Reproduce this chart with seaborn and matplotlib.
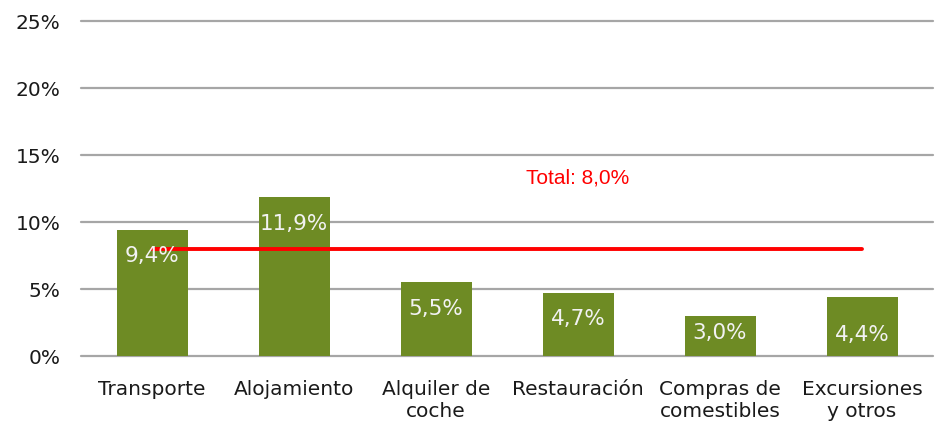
import numpy as np
import pandas as pd
import matplotlib
matplotlib.use("Agg")
import matplotlib.pyplot as plt
import seaborn as sns

# Datos del grafico
categorias = ["Transporte", "Alojamiento", "Alquiler de\ncoche", "Restauración",
              "Compras de\ncomestibles", "Excursiones\ny otros"]
valores = [9.4, 11.9, 5.5, 4.7, 3.0, 4.4]
etiquetas = ["9,4%", "11,9%", "5,5%", "4,7%", "3,0%", "4,4%"]
total = 8.0
total_texto = "Total: 8,0%"
ticks_y = [0, 5, 10, 15, 20, 25]

# Desplazamiento de las etiquetas dentro de las barras (puntos)
caida_etiqueta = [19, 20, 19, 19, 12, 27]

sns.set_style("white")
plt.rcParams['font.family'] = ['DejaVu Sans']

df = pd.DataFrame({"categoria": categorias, "valor": valores})

fig = plt.figure(figsize=(9.38, 4.3), dpi=100)
ax = fig.add_axes([0.0864, 0.172, 0.9083, 0.779])

sns.barplot(data=df, x="categoria", y="valor", color="#6E8B24", saturation=1,
            width=0.5, linewidth=0, ax=ax, zorder=3)

# Lineas de cuadricula
ax.set_ylim(0, 25)
ax.set_yticks(ticks_y)
ax.set_yticklabels([f"{t}%" for t in ticks_y])
ax.yaxis.grid(True, color="#A6A6A6", linewidth=1.6, zorder=0)
for linea in ax.get_ygridlines():
    linea.set_clip_on(False)
ax.set_axisbelow(True)
for s in ax.spines.values():
    s.set_visible(False)

ax.set_xlabel("")
ax.set_ylabel("")
ax.tick_params(axis="y", length=0, pad=15, labelsize=14.5, labelcolor="#1A1A1A")
ax.tick_params(axis="x", length=0, pad=17, labelsize=14.5, labelcolor="#1A1A1A")
ax.set_xlim(-0.5, len(categorias) - 0.5)

# Etiquetas de valor
for i, (v, txt) in enumerate(zip(valores, etiquetas)):
    ax.annotate(txt, xy=(i, v), xytext=(0, -caida_etiqueta[i]), textcoords="offset points",
                ha="center", va="center", color="#F2F2F2", fontsize=15.5, zorder=5)

# Linea del total
ax.plot([0, len(categorias) - 1], [total, total], color="#FF0000", linewidth=2.8,
        solid_capstyle="round", zorder=4)
ax.text(3, 13.3, total_texto, color="#FF0000", ha="center", va="center",
        fontsize=15, family=["Liberation Sans"], zorder=5)

fig.savefig("out.png", dpi=100)
